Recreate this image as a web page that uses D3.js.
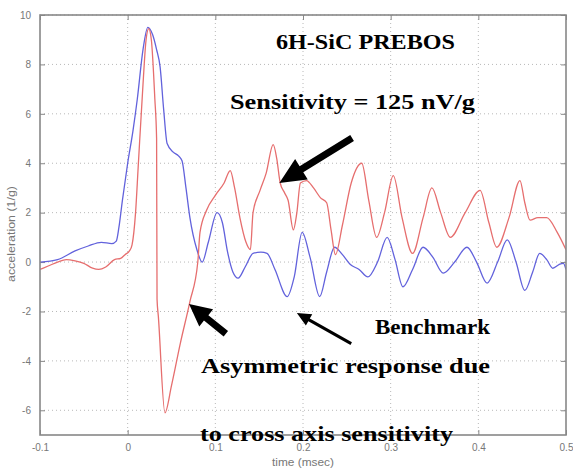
<!DOCTYPE html>
<html><head><meta charset="utf-8">
<script src="https://cdn.jsdelivr.net/npm/d3@7"></script>
<style>body{margin:0;background:#fff}</style>
</head><body><svg id="c" width="573" height="471"></svg>
<script>
const xTicks = [-0.1, 0, 0.1, 0.2, 0.3, 0.4, 0.5];
const xTickLabels = ["-0.1", "0", "0.1", "0.2", "0.3", "0.4", "0.5"];
const yTicks = [-6, -4, -2, 0, 2, 4, 6, 8, 10];
const yTickLabels = ["-6", "-4", "-2", "0", "2", "4", "6", "8", "10"];

// Benchmark (blue)
const blueT = [-0.1,-0.08,-0.06,-0.045,-0.03,-0.018,-0.013,-0.01,-0.006,0,0.006,0.011,0.0175,0.023,0.0285,0.033,0.037,0.041,0.045,0.052,0.058,0.062,0.0665,0.071,0.079,0.085,0.092,0.102,0.108,0.114,0.12,0.126,0.134,0.143,0.152,0.159,0.168,0.182,0.19,0.199,0.208,0.219,0.227,0.236,0.245,0.254,0.264,0.274,0.285,0.296,0.305,0.314,0.325,0.337,0.348,0.36,0.373,0.387,0.398,0.41,0.422,0.433,0.443,0.453,0.462,0.47,0.478,0.485,0.492,0.497,0.5];
const blueV = [0,0.1,0.45,0.65,0.8,0.75,0.85,1.4,2.5,4.0,5.3,6.6,8.6,9.5,9.2,8.6,7.9,6.2,4.8,4.45,4.3,4.1,3.0,1.8,0.5,0.0,0.8,2.0,1.6,0.4,-0.4,-0.65,-0.2,0.35,0.4,0.35,-0.3,-1.4,-0.6,1.2,0.2,-1.4,-0.4,0.6,0.3,-0.1,-0.3,-0.6,0.0,1.0,0.1,-1.0,-0.3,0.6,0.2,-0.45,0.0,0.6,0.0,-0.85,0.0,0.9,0.0,-1.15,-0.4,0.35,0.1,-0.25,-0.1,-0.05,-0.3];

// 6H-SiC PREBOS (red)
const redT = [-0.1,-0.09,-0.08,-0.07,-0.06,-0.05,-0.04,-0.033,-0.025,-0.015,-0.008,-0.003,0.002,0.005,0.009,0.012,0.0175,0.021,0.024,0.027,0.031,0.033,0.0335,0.035,0.0425,0.05,0.06,0.071,0.08,0.0825,0.09,0.1,0.11,0.117,0.122,0.128,0.135,0.14,0.143,0.151,0.158,0.166,0.17,0.174,0.179,0.183,0.189,0.193,0.197,0.204,0.212,0.22,0.227,0.232,0.237,0.245,0.255,0.267,0.275,0.284,0.293,0.303,0.313,0.325,0.337,0.347,0.357,0.368,0.385,0.402,0.412,0.421,0.435,0.4475,0.453,0.459,0.468,0.478,0.49,0.5];
const redV = [-0.3,-0.15,0.0,0.1,0.05,-0.05,-0.25,-0.3,-0.2,0.1,0.15,0.3,0.45,0.7,2.0,3.85,7.2,9.0,9.45,9.0,6.6,5.0,-1.5,-2.2,-6.1,-5.0,-3.3,-1.6,0.0,1.2,2.1,2.7,3.2,3.7,3.0,1.8,0.8,0.5,2.0,2.9,3.6,4.75,4.2,3.2,2.8,2.5,1.3,2.0,3.2,3.3,3.0,2.6,2.4,1.3,0.3,1.5,3.2,4.0,2.5,1.0,2.0,3.5,1.8,0.35,1.8,3.0,2.0,1.0,2.0,2.9,1.6,0.6,1.8,3.3,2.4,1.7,1.8,1.8,1.2,0.5];

// annotation arrows: [tailT, tailV, tipT, tipV]
const arrowSensitivity = [0.256, 5.02, 0.173, 3.2];
const arrowAsym = [0.112, -2.9, 0.07, -1.7];
const arrowBench = [0.255, -3.3, 0.193, -2.06];

const svg = d3.select("#c");
const L = 40, R = 566, T = 15, B = 435;
const x = d3.scaleLinear().domain([-0.1, 0.5]).range([L, R]);
const y = d3.scaleLinear().domain([-7, 10]).range([B, T]);

// grid
const g = svg.append("g");
g.selectAll(".gx").data(xTicks.slice(1, -1)).enter().append("line")
  .attr("x1", d => x(d)).attr("x2", d => x(d)).attr("y1", T).attr("y2", B)
  .attr("stroke", "#b8b8b8").attr("stroke-width", 1).attr("stroke-dasharray", "1,3");
g.selectAll(".gy").data(yTicks).enter().append("line")
  .attr("x1", L).attr("x2", R).attr("y1", d => y(d)).attr("y2", d => y(d))
  .attr("stroke", "#b8b8b8").attr("stroke-width", 1).attr("stroke-dasharray", "1,3");

// axes with inward ticks
const axB = d3.axisBottom(x).tickValues(xTicks).tickFormat((d, i) => xTickLabels[i]).tickSizeInner(-5).tickSizeOuter(0).tickPadding(9);
const axL = d3.axisLeft(y).tickValues(yTicks).tickFormat((d, i) => yTickLabels[i]).tickSizeInner(-5).tickSizeOuter(0).tickPadding(9);
const axT = d3.axisTop(x).tickValues(xTicks).tickFormat("").tickSizeInner(-5).tickSizeOuter(0);
const axR = d3.axisRight(y).tickValues(yTicks).tickFormat("").tickSizeInner(-5).tickSizeOuter(0);
function styleAx(sel) {
  sel.selectAll("path").remove();
  sel.selectAll("line").attr("stroke", "#888");
  sel.selectAll("text").attr("fill", "#777").style("font-family", "Liberation Sans, Arial, sans-serif").style("font-size", "10px");
}
svg.append("g").attr("transform", `translate(0,${B})`).call(axB).call(styleAx);
svg.append("g").attr("transform", `translate(${L},0)`).call(axL).call(styleAx);
svg.append("g").attr("transform", `translate(0,${T})`).call(axT).call(styleAx);
svg.append("g").attr("transform", `translate(${R},0)`).call(axR).call(styleAx);

// lines
const line = d3.line().x(d => x(d[0])).y(d => y(d[1])).curve(d3.curveMonotoneX);
const blue = blueT.map((t, i) => [t, blueV[i]]);
const red = redT.map((t, i) => [t, redV[i]]);
svg.append("clipPath").attr("id", "clp").append("rect").attr("x", L).attr("y", T).attr("width", R - L).attr("height", B - T);
svg.append("path").datum(blue).attr("d", line).attr("fill", "none")
  .attr("stroke", "#6262dc").attr("stroke-width", 1.3).attr("clip-path", "url(#clp)");
svg.append("path").datum(red).attr("d", line).attr("fill", "none")
  .attr("stroke", "#e66e6e").attr("stroke-width", 1.3).attr("clip-path", "url(#clp)");

// frame
svg.append("rect").attr("x", L).attr("y", T).attr("width", R - L).attr("height", B - T)
  .attr("fill", "none").attr("stroke", "#888").attr("stroke-width", 1.6);

// axis labels
svg.append("text").attr("x", 303).attr("y", 466).attr("text-anchor", "middle")
  .attr("textLength", 62).attr("lengthAdjust", "spacingAndGlyphs")
  .attr("fill", "#777").style("font-family", "Liberation Sans, Arial, sans-serif").style("font-size", "10px").text("time (msec)");
svg.append("text").attr("transform", `translate(15,234) rotate(-90)`).attr("text-anchor", "middle")
  .attr("textLength", 96).attr("lengthAdjust", "spacingAndGlyphs")
  .attr("fill", "#777").style("font-family", "Liberation Sans, Arial, sans-serif").style("font-size", "10px").text("acceleration (1/g)");

// arrows
function arrow(a, shaft, headW, headL) {
  const x0 = x(a[0]), y0 = y(a[1]), x1 = x(a[2]), y1 = y(a[3]);
  const dx = x1 - x0, dy = y1 - y0, len = Math.hypot(dx, dy);
  const ux = dx / len, uy = dy / len, px = -uy, py = ux;
  const bx = x1 - ux * headL, by = y1 - uy * headL;
  const pts = [
    [x0 + px * shaft / 2, y0 + py * shaft / 2],
    [bx + px * shaft / 2, by + py * shaft / 2],
    [bx + px * headW / 2, by + py * headW / 2],
    [x1, y1],
    [bx - px * headW / 2, by - py * headW / 2],
    [bx - px * shaft / 2, by - py * shaft / 2],
    [x0 - px * shaft / 2, y0 - py * shaft / 2]
  ];
  svg.append("polygon").attr("points", pts.map(p => p.join(",")).join(" ")).attr("fill", "#000");
}
arrow(arrowSensitivity, 7, 24, 26);
arrow(arrowAsym, 7, 22, 22);
arrow(arrowBench, 3, 13, 14);

// annotation text: [text, x, baseline, fontSize, width]
const ann = [
  ["6H-SiC PREBOS", 276, 49, 22, 179],
  ["Sensitivity = 125 nV/g", 230, 109, 22, 245],
  ["Benchmark", 375, 334, 22, 115],
  ["Asymmetric response due", 201, 373, 22, 289],
  ["to cross axis sensitivity", 200, 441, 22, 253]
];
svg.selectAll(".ann").data(ann).enter().append("text")
  .attr("x", d => d[1]).attr("y", d => d[2]).style("font-size", d => d[3] + "px")
  .attr("textLength", d => d[4]).attr("lengthAdjust", "spacingAndGlyphs")
  .style("font-family", "Liberation Serif, Times New Roman, serif").style("font-weight", "bold")
  .attr("fill", "#000").text(d => d[0]);
</script></body></html>
